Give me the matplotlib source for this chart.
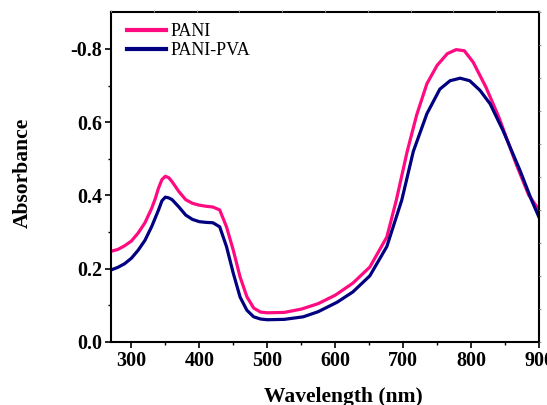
import matplotlib
matplotlib.use("Agg")
import matplotlib.pyplot as plt
from matplotlib.ticker import MultipleLocator, FixedLocator, NullFormatter

wl = [270, 280, 290, 300, 310, 320, 330, 335, 340, 345, 350, 355, 360, 370, 380, 390, 400, 410, 420, 430,
      440, 450, 460, 470, 480, 490, 500, 525, 550, 575, 600, 626, 651, 676, 690, 706, 720, 735, 750,
      765, 778, 790, 803, 822, 841, 866, 885, 900]
pani = [0.247, 0.252, 0.262, 0.275, 0.297, 0.325, 0.365, 0.390, 0.420, 0.443, 0.452, 0.448, 0.437, 0.410,
        0.388, 0.378, 0.373, 0.370, 0.368, 0.360, 0.314, 0.250, 0.177, 0.123, 0.092, 0.081, 0.079, 0.080,
        0.089, 0.104, 0.127, 0.160, 0.204, 0.286, 0.387, 0.520, 0.620, 0.705, 0.755, 0.787, 0.798, 0.795,
        0.764, 0.695, 0.613, 0.487, 0.400, 0.360]

wl2 = [270, 280, 290, 300, 310, 320, 330, 340, 345, 350, 355, 360, 370, 380, 390, 400, 410, 420, 430,
       440, 450, 460, 470, 480, 490, 500, 525, 553, 575, 603, 626, 651, 676, 698, 715, 735, 754, 769,
       784, 798, 813, 828, 847, 872, 889, 900]
pva = [0.196, 0.203, 0.213, 0.228, 0.250, 0.277, 0.315, 0.360, 0.385, 0.395, 0.393, 0.388, 0.368, 0.346,
       0.334, 0.328, 0.326, 0.325, 0.314, 0.260, 0.187, 0.122, 0.086, 0.068, 0.062, 0.060, 0.061, 0.068,
       0.082, 0.108, 0.136, 0.180, 0.260, 0.387, 0.520, 0.623, 0.690, 0.713, 0.720, 0.713, 0.687, 0.650,
       0.577, 0.468, 0.387, 0.340]

yticks = [0.0, 0.2, 0.4, 0.6, 0.8]
ytick_labels = ["0.0", "0.2", "0.4", "0.6", "-0.8"]
xticks = [300, 400, 500, 600, 700, 800, 900]

serif = ["Liberation Serif", "DejaVu Serif"]
plt.rcParams["font.family"] = serif

fig = plt.figure(figsize=(5.47, 4.05), dpi=100)
ax = fig.add_axes([0.2029, 0.1563, 0.7825, 0.8133])

ax.plot(wl, pani, color="#ff0a80", lw=2.3, label="PANI")
ax.plot(wl2, pva, color="#000080", lw=2.3, label="PANI-PVA")

ax.set_xlim(270, 900)
ax.set_ylim(0, 0.9)

ax.set_xticks(xticks)
ax.xaxis.set_minor_locator(MultipleLocator(50))
ax.set_yticks(yticks)
ax.set_yticklabels(ytick_labels)
ax.yaxis.set_minor_locator(FixedLocator([0.1, 0.3, 0.5, 0.7]))

ax.tick_params(axis="both", which="major", direction="out", length=4, width=1.2,
               labelsize=14.5, pad=2.5)
ax.tick_params(axis="both", which="minor", direction="out", length=2.5, width=1.0)
for lab in ax.get_xticklabels() + ax.get_yticklabels():
    lab.set_fontweight("bold")

for sp in ax.spines.values():
    sp.set_linewidth(1.5)

# secondary tick marks on top and right
axt = ax.twiny()
axt.set_xlim(0, 10)
axt.xaxis.set_major_locator(MultipleLocator(1))
axt.xaxis.set_major_formatter(NullFormatter())
axt.tick_params(axis="x", direction="out", length=1.5, width=0.8, color="#999999")
axr = ax.twinx()
axr.set_ylim(0, 10)
axr.yaxis.set_major_locator(MultipleLocator(1))
axr.yaxis.set_major_formatter(NullFormatter())
axr.tick_params(axis="y", direction="out", length=1.5, width=0.8, color="#999999")
for a in (axt, axr):
    for sp in a.spines.values():
        sp.set_visible(False)

leg = ax.legend(loc="upper left", frameon=False, fontsize=13, handlelength=2.15,
                handletextpad=0.25, labelspacing=0.12, borderaxespad=0.0, borderpad=0.0,
                bbox_to_anchor=(0.037, 0.967))
for h in leg.get_lines():
    h.set_linewidth(3.0)

fig.text(0.627, -0.006, "Wavelength (nm)", ha="center", va="bottom", fontsize=15.5,
         fontweight="bold")
fig.text(0.042, 0.573, "Absorbance", ha="center", va="center", rotation=90,
         fontsize=15.5, fontweight="bold")

fig.savefig("out.png", dpi=100)
